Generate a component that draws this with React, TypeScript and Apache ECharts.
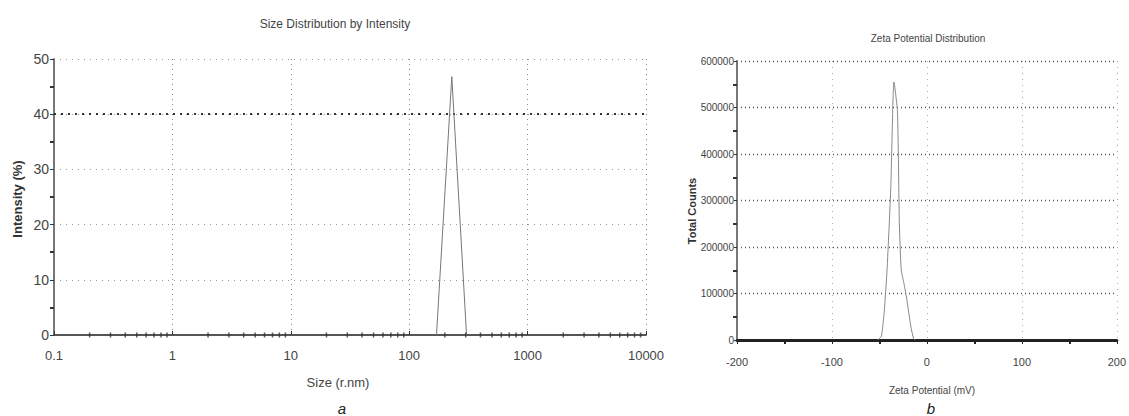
import React, { useEffect, useRef } from "react";
import * as echarts from "echarts";

// Size distribution (panel a)
const sizeNm = [170, 229, 305];
const intensityPct = [0, 46.8, 0];
const sizeTicks = [0.1, 1, 10, 100, 1000, 10000];

// Zeta potential distribution (panel b)
const zetaMv = [-52, -48, -45, -42, -38, -34.7, -31, -29, -27, -24, -21, -17, -14, -12];
const zetaCounts = [0, 8000, 60000, 150000, 330000, 555000, 490000, 250000, 150000, 120000, 85000, 30000, 3000, 0];

// minor tick positions on log axis (2..9 per decade)
const logMinor: number[] = [];
for (let e = -1; e < 4; e++) for (let m = 2; m <= 9; m++) logMinor.push(+(m * Math.pow(10, e)).toPrecision(3));

const SANS = "'Liberation Sans', Arial, sans-serif";

export default function App() {
  const ref = useRef<HTMLDivElement>(null);
  useEffect(() => {
    document.body.style.margin = "0";
    const chart = echarts.init(ref.current!, undefined, { renderer: "svg" });
    const option: any = {
      animation: false,
      backgroundColor: "#ffffff",
      grid: [
        { left: 54, right: 483, top: 59, bottom: 81 },
        { left: 737, right: 3, top: 61, bottom: 76 },
      ],
      xAxis: [
        {
          gridIndex: 0,
          type: "log",
          logBase: 10,
          min: 0.1,
          max: 10000,
          splitNumber: 5,
          axisLine: { lineStyle: { color: "#555", width: 2 } },
          axisTick: { show: true, inside: true, length: 4, lineStyle: { color: "#333" } },
          axisLabel: {
            color: "#444",
            fontSize: 13,
            fontFamily: SANS,
            margin: 14,
            formatter: (v: number) => {
              const t = sizeTicks.find((s) => Math.abs(s - v) / s < 1e-6);
              return t !== undefined ? String(t) : "";
            },
          },
          splitLine: { show: true, lineStyle: { color: "#888", type: [1, 4], width: 1 } },
        },
        {
          gridIndex: 1,
          type: "value",
          min: -200,
          max: 200,
          interval: 100,
          axisLine: { onZero: false, lineStyle: { color: "#222", width: 3 } },
          axisTick: { show: true, inside: false, length: 4, lineStyle: { color: "#222" } },
          minorTick: { show: true, splitNumber: 2, length: 4, lineStyle: { color: "#222", width: 2 } },
          axisLabel: { color: "#444", fontSize: 11, fontFamily: SANS, margin: 16, formatter: (v: number) => String(v) },
          splitLine: { show: true, lineStyle: { color: "#aaa", type: [1, 5], width: 1 } },
        },
      ],
      yAxis: [
        {
          gridIndex: 0,
          type: "value",
          min: 0,
          max: 50,
          interval: 10,
          axisLine: { show: true, onZero: false, lineStyle: { color: "#777", width: 2 } },
          axisTick: { show: true, length: 4, lineStyle: { color: "#333" } },
          minorTick: { show: true, splitNumber: 2, length: 4, lineStyle: { color: "#333", width: 2 } },
          axisLabel: { color: "#444", fontSize: 14, fontFamily: SANS, margin: 5 },
          splitLine: { show: true, lineStyle: { color: "#999", type: [1, 5], width: 1 } },
        },
        {
          gridIndex: 1,
          type: "value",
          min: 0,
          max: 600000,
          interval: 100000,
          axisLine: { show: true, onZero: false, lineStyle: { color: "#777", width: 2 } },
          axisTick: { show: true, length: 3, lineStyle: { color: "#333" } },
          minorTick: { show: true, splitNumber: 2, length: 4, lineStyle: { color: "#333", width: 2 } },
          axisLabel: { color: "#444", fontSize: 10, fontFamily: SANS, margin: 3, formatter: (v: number) => String(v) },
          splitLine: { show: true, lineStyle: { color: "#555", type: [1, 3], width: 1.3 } },
        },
      ],
      series: [
        {
          name: "Intensity",
          type: "line",
          xAxisIndex: 0,
          yAxisIndex: 0,
          data: sizeNm.map((s, i) => [s, intensityPct[i]]),
          symbol: "none",
          lineStyle: { color: "#777", width: 1 },
          markLine: {
            silent: true,
            symbol: "none",
            label: { show: false },
            lineStyle: { color: "#333", type: [2, 5], width: 2 },
            data: [{ yAxis: 40 }],
          },
          z: 5,
        },
        {
          name: "minorTicks",
          type: "scatter",
          xAxisIndex: 0,
          yAxisIndex: 0,
          data: logMinor.map((v) => [v, 0]),
          symbol: "rect",
          symbolSize: [1.5, 5],
          itemStyle: { color: "#333" },
          silent: true,
          z: 6,
        },
        {
          name: "Zeta",
          type: "line",
          xAxisIndex: 1,
          yAxisIndex: 1,
          data: zetaMv.map((x, i) => [x, zetaCounts[i]]),
          symbol: "none",
          smooth: 0.2,
          lineStyle: { color: "#888", width: 1 },
          z: 5,
        },
      ],
      graphic: [
        {
          type: "text",
          x: 335,
          y: 24,
          style: { text: "Size Distribution by Intensity", fill: "#444", font: `12px ${SANS}`, textAlign: "center", textVerticalAlign: "middle" },
        },
        {
          type: "text",
          x: 17,
          y: 199,
          rotation: Math.PI / 2,
          style: { text: "Intensity (%)", fill: "#333", font: `bold 13px ${SANS}`, textAlign: "center", textVerticalAlign: "middle" },
        },
        {
          type: "text",
          x: 338,
          y: 382,
          style: { text: "Size (r.nm)", fill: "#444", font: `13px ${SANS}`, textAlign: "center", textVerticalAlign: "middle" },
        },
        {
          type: "text",
          x: 342,
          y: 408,
          style: { text: "a", fill: "#222", font: `italic 15px ${SANS}`, textAlign: "center", textVerticalAlign: "middle" },
        },
        {
          type: "text",
          x: 928,
          y: 38,
          style: { text: "Zeta Potential Distribution", fill: "#444", font: `10px ${SANS}`, textAlign: "center", textVerticalAlign: "middle" },
        },
        {
          type: "text",
          x: 692,
          y: 211,
          rotation: Math.PI / 2,
          style: { text: "Total Counts", fill: "#333", font: `bold 11px ${SANS}`, textAlign: "center", textVerticalAlign: "middle" },
        },
        {
          type: "text",
          x: 932,
          y: 390,
          style: { text: "Zeta Potential (mV)", fill: "#444", font: `10px ${SANS}`, textAlign: "center", textVerticalAlign: "middle" },
        },
        {
          type: "text",
          x: 931,
          y: 408,
          style: { text: "b", fill: "#222", font: `italic 15px ${SANS}`, textAlign: "center", textVerticalAlign: "middle" },
        },
      ],
    };
    chart.setOption(option);
    return () => chart.dispose();
  }, []);
  return <div ref={ref} style={{ width: 1129, height: 416 }} />;
}
